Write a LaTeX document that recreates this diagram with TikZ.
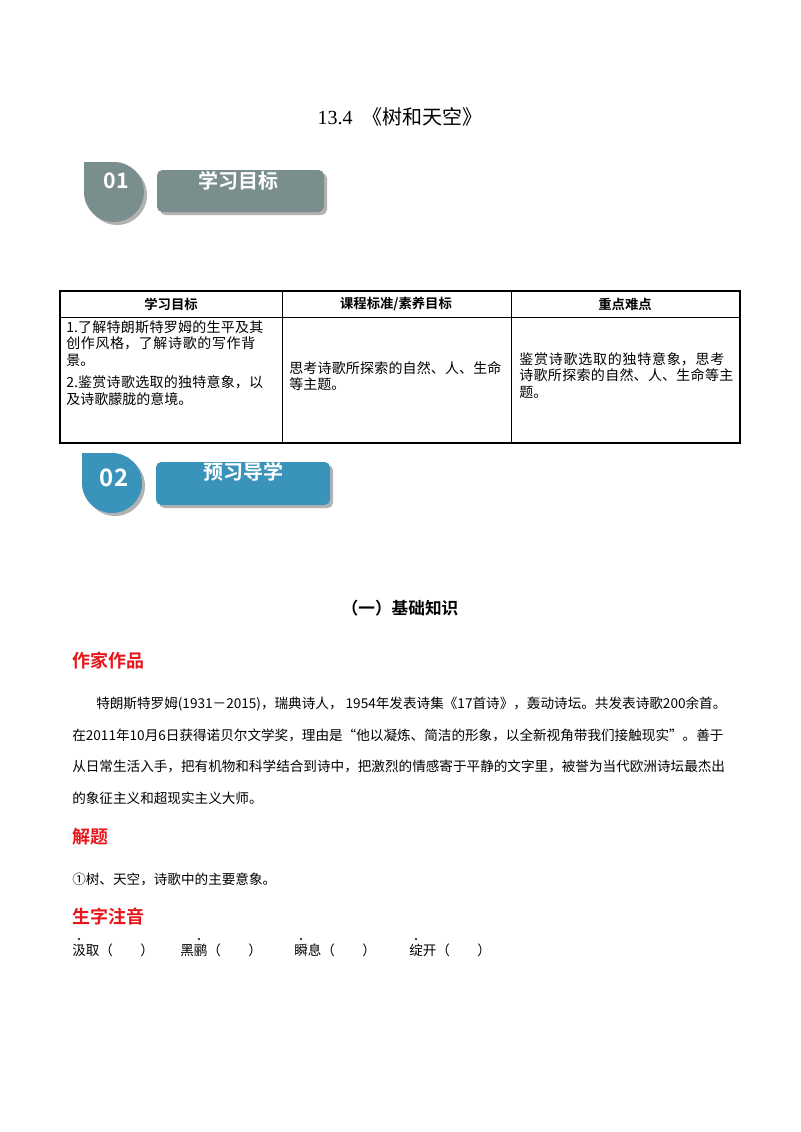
\documentclass[tikz,border=0pt]{standalone}
\usepackage{fontspec}
\setmainfont{Liberation Serif}
\newfontfamily\cjk{Noto Sans CJK SC}
\newfontfamily\cjkb{Noto Sans CJK SC Bold}
\XeTeXlinebreaklocale "zh"
\XeTeXlinebreakskip=0pt plus 1pt
\definecolor{badgeA}{HTML}{7A8E8E}
\definecolor{badgeB}{HTML}{3993BB}
\definecolor{redh}{HTML}{E8161B}
\tikzset{
 txt/.style={anchor=west,inner sep=0,font=\cjk\fontsize{10.2}{12}\selectfont},
 cell/.style={anchor=north west,inner sep=0,text width=#1,align=left,font=\cjk\fontsize{10.5}{12.5}\selectfont},
 head/.style={inner sep=0,font=\cjkb\fontsize{10}{12}\selectfont},
 redt/.style={anchor=west,inner sep=0,text=redh,font=\cjkb\fontsize{13.5}{14}\selectfont},
 btxt/.style={inner sep=0,text=white,font=\cjkb\fontsize{15}{16}\selectfont},
 dotm/.style={circle,fill=black,inner sep=0,minimum size=1.6pt}
}
\newcommand\badge[7]{% cx cy rx1 rx2 ry1 ry2 colour
 \fill[gray!60] (#1+3,#2+3) circle[radius=30];
 \fill[gray!60,rounded corners=4] (#3+3,#5+3) rectangle (#4+3,#6+3);
 \fill[#7] (#1-30,#2-30) -- (#1,#2-30) arc[start angle=-90,end angle=180,radius=30] -- cycle;
 \fill[#7,rounded corners=4] (#3,#5) rectangle (#4,#6);
}
\begin{document}
\begin{tikzpicture}[x=0.75pt,y=-0.75pt]
\useasboundingbox[fill=white] (0,0) rectangle (800,1132);
\node[inner sep=0,font=\fontsize{15}{16}\selectfont] (title) at (400,117) {13.4\ \ {\cjk《树和天空》}};
% badge 1
\badge{114}{192}{157}{324}{170}{212}{badgeA}
\node[btxt,font=\cjkb\fontsize{16}{16}\selectfont] (n1) at (116,181) {01};
\node[btxt] (b1) at (238,181) {学习目标};
% table
\draw[line width=0.8pt] (60,291) rectangle (740,443);
\draw[line width=0.6pt] (60,317) -- (740,317) (282,291) -- (282,443) (511,291) -- (511,443);
\node[head] (h1) at (171,304) {学习目标};
\node[head] (h2) at (396,304) {课程标准/素养目标};
\node[head] (h3) at (625,304) {重点难点};
\node[cell=152pt] (c1) at (66,320) {1.了解特朗斯特罗姆的生平及其创作风格，了解诗歌的写作背景。\\[4pt]2.鉴赏诗歌选取的独特意象，以及诗歌朦胧的意境。};
\node[cell=162pt] (c2) at (289,361) {思考诗歌所探索的自然、人、生命等主题。};
\node[cell=166pt] (c3) at (519,352) {鉴赏诗歌选取的独特意象，思考诗歌所探索的自然、人、生命等主题。};
% badge 2
\badge{112}{483}{156}{330}{462}{505}{badgeB}
\node[btxt,font=\cjkb\fontsize{18}{18}\selectfont] (n2) at (114,478) {02};
\node[btxt] (b2) at (243,472) {预习导学};
\node[inner sep=0,font=\cjkb\fontsize{12.5}{14}\selectfont] (sec) at (400,608) {（一）基础知识};
\node[redt] (r1) at (72,661) {作家作品};
\node[txt] (p1) at (96,704) {特朗斯特罗姆(1931－2015)，瑞典诗人， 1954年发表诗集《17首诗》，轰动诗坛。共发表诗歌200余首。};
\node[txt] (p2) at (72,735) {在2011年10月6日获得诺贝尔文学奖，理由是“他以凝炼、简洁的形象，以全新视角带我们接触现实”。善于};
\node[txt] (p3) at (72,766) {从日常生活入手，把有机物和科学结合到诗中，把激烈的情感寄于平静的文字里，被誉为当代欧洲诗坛最杰出};
\node[txt] (p4) at (72,798) {的象征主义和超现实主义大师。};
\node[redt] (r2) at (72,837) {解题};
\node[txt] (p5) at (72,879) {①树、天空，诗歌中的主要意象。};
\node[redt] (r3) at (72,917) {生字注音};
\node[txt] (w1) at (72,950) {汲取（\qquad）};
\node[txt] (w2) at (180,950) {黑鹂（\qquad）};
\node[txt] (w3) at (294,950) {瞬息（\qquad）};
\node[txt] (w4) at (409,950) {绽开（\qquad）};
\node[dotm] (d1) at (79,939) {};
\node[dotm] (d2) at (199,939) {};
\node[dotm] (d3) at (301,939) {};
\node[dotm] (d4) at (416,939) {};
\end{tikzpicture}
\end{document}
